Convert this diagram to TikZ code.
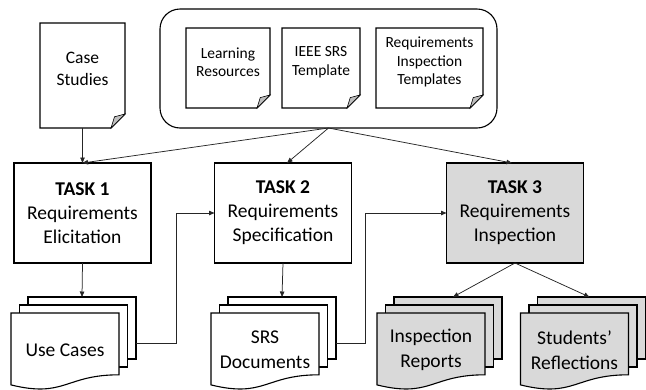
\documentclass[tikz,border=0pt]{standalone}
\usepackage{fontspec}
\setmainfont{Carlito}
\usetikzlibrary{arrows.meta}
\definecolor{taskgrey}{HTML}{D9D9D9}
\definecolor{foldgrey}{HTML}{BFBFBF}
\newcommand\folddoc[2]{%
  \draw[docline, fill=white] (#1.north west) -- (#1.north east) -- ([yshift=#2]#1.south east) -- ([xshift=-#2]#1.south east) -- (#1.south west) -- cycle;
  \draw[line width=0.6pt, fill=foldgrey] ([xshift=-#2]#1.south east) -- ([yshift=#2]#1.south east) -- ([xshift=-0.75*#2, yshift=0.8*#2]#1.south east) -- cycle;
}
\newcommand\mdoc[4]{%
  \filldraw[docline, fill=#3] ({#2+17},297) rectangle ({#2+125},359);
  \filldraw[docline, fill=#3] ({#2+8.5},305) rectangle ({#2+116.5},367);
  \filldraw[docline, fill=#3] (#2,313) -- ({#2+108},313) -- ({#2+108},374.8) .. controls ({#2+54},374.8) and ({#2+54},398.2) .. (#2,384.9) -- cycle;
  \node[stacktext] (#1) at ({#2+54},350) {#4};
  \coordinate (#1-t) at ({#2+71},297);
  \coordinate (#1-r) at ({#2+125},343);
}
\begin{document}
\begin{tikzpicture}[x=1pt,y=-1pt, line join=miter,
  docline/.style={draw=black, line width=1.1pt},
  shapebox/.style={draw=none, outer sep=0pt, inner sep=0pt},
  taskbox/.style={draw=black, line width=1.1pt, outer sep=0pt, minimum width=137pt, minimum height=100pt, align=center, font=\fontsize{19.5}{24}\selectfont},
  stacktext/.style={align=center, font=\fontsize{19.5}{25}\selectfont},
  smalltext/.style={align=center, font=\fontsize{15.5}{18.5}\selectfont},
  arr/.style={draw=black!85, line width=0.75pt, -{Triangle[length=5.5pt,width=4.5pt]}}]
\useasboundingbox (0,0) rectangle (646,389);

% resources container
\node[draw=black, line width=1.1pt, rounded corners=20pt, outer sep=0pt, minimum width=337pt, minimum height=119pt] (res) at (328.5,68.5) {};
\node[shapebox, minimum width=84pt, minimum height=80pt] (lr) at (228,68) {};
\folddoc{lr}{13}
\node[smalltext] (lrt) at (228,62) {Learning\\Resources};
\node[shapebox, minimum width=78pt, minimum height=80pt] (ieee) at (321,68) {};
\folddoc{ieee}{13}
\node[smalltext] (ieeet) at (321,62) {IEEE SRS\\Template};
\node[shapebox, minimum width=107pt, minimum height=80pt] (rit) at (429.5,68) {};
\folddoc{rit}{13}
\node[smalltext] (ritt) at (429.5,62) {Requirements\\Inspection\\Templates};

% case studies
\node[shapebox, minimum width=85pt, minimum height=105pt] (cs) at (82.5,75.5) {};
\folddoc{cs}{14}
\node[align=center, font=\fontsize{17.5}{22}\selectfont] (cst) at (82.5,69) {Case\\Studies};

% tasks
\node[taskbox] (t1) at (82.5,213) {\textbf{TASK 1}\\Requirements\\Elicitation};
\node[taskbox] (t2) at (283,213) {\textbf{TASK 2}\\Requirements\\Specification};
\node[taskbox, fill=taskgrey] (t3) at (515,213) {\textbf{TASK 3}\\Requirements\\Inspection};

% output stacks
\mdoc{uc}{11}{white}{Use Cases}
\mdoc{srs}{211}{white}{SRS\\Documents}
\mdoc{ir}{377}{taskgrey}{Inspection\\Reports}
\mdoc{sr}{520.5}{taskgrey}{Students’\\Reflections}

% connectors
\draw[arr] (cs.south) -- (t1.north);
\draw[arr] (res.south) -- (t1.north);
\draw[arr] (res.south) -- ([xshift=4pt]t2.north);
\draw[arr] (res.south) -- ([xshift=-3pt]t3.north);
\draw[arr] (t1.south) -- (uc-t);
\draw[arr] (t2.south) -- (srs-t);
\draw[arr] (t3.south) -- ([xshift=5pt]ir-t);
\draw[arr] (t3.south) -- ([xshift=-2pt]sr-t);
\draw[arr] (uc-r) -| ([xshift=-38pt]t2.west) -- (t2.west);
\draw[arr] (srs-r) -| ([xshift=-81pt]t3.west) -- (t3.west);
\end{tikzpicture}
\end{document}
